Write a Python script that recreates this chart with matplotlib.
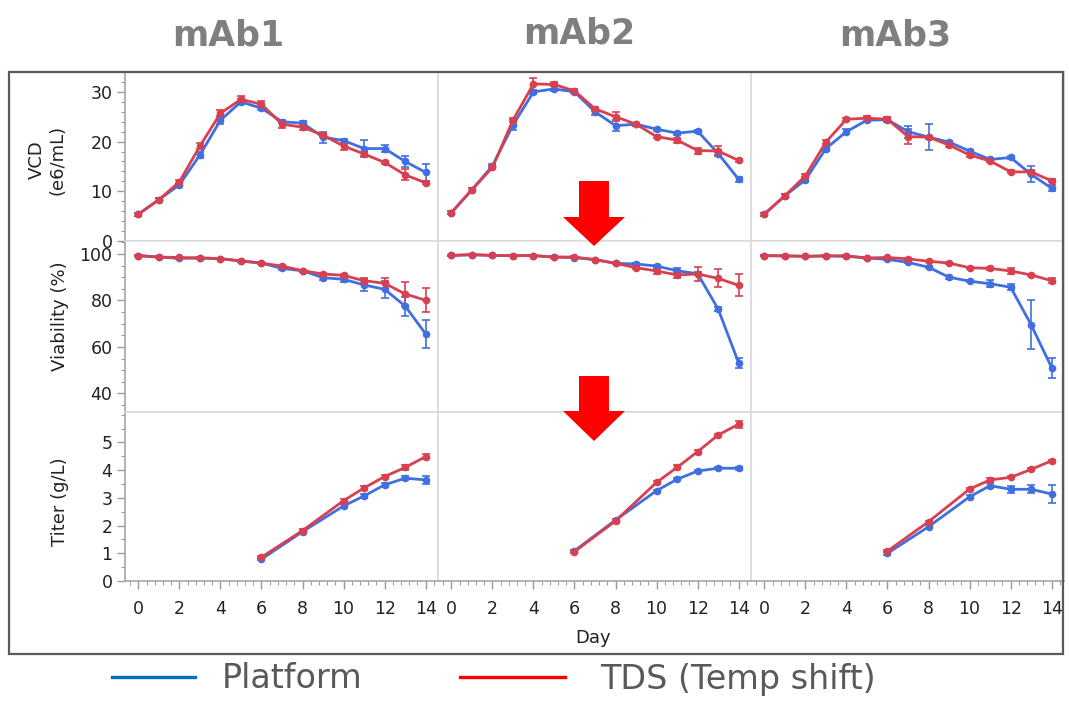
import matplotlib
matplotlib.use("Agg")
import matplotlib.pyplot as plt
from matplotlib.ticker import MultipleLocator, FixedLocator
from matplotlib.patches import Polygon, Rectangle
from matplotlib.lines import Line2D

# Fed-batch culture profiles, mean +/- sd per day
products = ["mAb1", "mAb2", "mAb3"]
days = list(range(15))
titer_days = [6, 8, 10, 11, 12, 13, 14]

vcd_platform = [
    [5.4, 8.3, 11.3, 17.3, 24.3, 28.0, 26.7, 24.0, 23.7, 20.9, 20.2, 18.6, 18.6, 16.0, 13.8],
    [5.7, 10.3, 15.1, 23.3, 30.0, 30.6, 30.0, 26.0, 23.2, 23.5, 22.5, 21.7, 22.1, 17.6, 12.4],
    [5.4, 9.1, 12.3, 18.6, 22.0, 24.3, 24.4, 22.0, 20.9, 19.9, 18.1, 16.4, 16.8, 13.4, 10.6],
]
vcd_platform_sd = [
    [0.3, 0.4, 0.4, 0.6, 0.7, 0.5, 0.4, 0.3, 0.4, 1.1, 0.4, 1.7, 0.7, 1.1, 1.7],
    [0.3, 0.3, 0.3, 1.0, 0.4, 0.5, 0.3, 0.6, 1.1, 0.3, 0.3, 0.3, 0.3, 0.3, 0.5],
    [0.3, 0.3, 0.4, 0.4, 0.5, 0.4, 0.5, 1.2, 2.6, 0.3, 0.3, 0.3, 0.3, 1.6, 0.6],
]
vcd_tds = [
    [5.4, 8.3, 11.9, 19.1, 25.7, 28.5, 27.5, 23.5, 22.9, 21.3, 19.1, 17.5, 15.8, 13.3, 11.7],
    [5.7, 10.3, 14.8, 24.3, 31.6, 31.5, 30.2, 26.6, 25.0, 23.5, 21.0, 20.3, 18.2, 18.1, 16.2],
    [5.4, 9.1, 13.1, 19.9, 24.5, 24.7, 24.5, 21.0, 20.9, 19.3, 17.3, 16.1, 13.9, 13.9, 12.1],
]
vcd_tds_sd = [
    [0.3, 0.3, 0.4, 0.6, 0.6, 0.7, 0.6, 0.7, 0.6, 0.4, 0.7, 0.4, 0.3, 1.1, 0.3],
    [0.3, 0.3, 0.3, 0.4, 1.2, 0.4, 0.3, 0.4, 0.9, 0.3, 0.3, 0.5, 0.6, 1.0, 0.3],
    [0.3, 0.3, 0.3, 0.4, 0.3, 0.5, 0.4, 1.5, 0.3, 0.3, 0.3, 0.3, 0.3, 0.4, 0.3],
]

via_platform = [
    [99.3, 98.7, 98.1, 98.3, 98.0, 97.0, 96.1, 93.8, 92.8, 89.8, 89.1, 86.7, 84.8, 77.6, 65.6],
    [99.4, 99.7, 99.4, 99.3, 99.3, 98.7, 98.4, 97.6, 96.0, 95.7, 94.8, 92.8, 91.5, 76.3, 53.1],
    [99.3, 99.2, 99.0, 99.2, 99.0, 98.3, 97.7, 96.4, 94.3, 90.0, 88.3, 87.2, 85.7, 69.5, 51.1],
]
via_platform_sd = [
    [0.3, 0.3, 0.3, 0.3, 0.3, 0.3, 0.3, 0.5, 0.5, 0.8, 1.0, 2.6, 3.7, 4.1, 6.1],
    [0.3, 0.3, 0.3, 0.3, 0.3, 0.3, 0.3, 0.3, 0.4, 0.5, 0.6, 1.0, 0.6, 1.0, 2.1],
    [0.3, 0.3, 0.3, 0.3, 0.3, 0.3, 0.3, 0.4, 0.5, 0.6, 0.5, 1.4, 1.2, 10.5, 4.3],
]
via_tds = [
    [99.3, 98.7, 98.5, 98.3, 98.0, 97.0, 96.1, 94.8, 92.8, 91.4, 90.8, 88.5, 87.4, 82.8, 80.1],
    [99.4, 99.7, 99.4, 99.3, 99.3, 98.7, 98.7, 97.6, 96.0, 94.1, 92.7, 91.0, 91.4, 89.5, 86.5],
    [99.3, 99.2, 99.0, 99.2, 99.2, 98.3, 98.5, 97.9, 96.9, 96.1, 94.1, 93.8, 92.7, 91.0, 88.5],
]
via_tds_sd = [
    [0.3, 0.3, 0.3, 0.3, 0.3, 0.3, 0.3, 0.4, 0.5, 0.6, 0.8, 1.0, 2.4, 5.3, 5.2],
    [0.3, 0.3, 0.3, 0.3, 0.3, 0.3, 0.3, 0.3, 0.4, 0.6, 1.3, 1.5, 2.9, 3.9, 4.7],
    [0.3, 0.3, 0.3, 0.3, 0.3, 0.3, 0.3, 0.3, 0.3, 0.4, 0.5, 0.5, 1.1, 0.6, 1.1],
]

titer_platform = [
    [0.79, 1.78, 2.71, 3.07, 3.47, 3.71, 3.65],
    [1.09, 2.20, 3.26, 3.67, 3.97, 4.07, 4.07],
    [1.00, 1.96, 3.04, 3.44, 3.31, 3.31, 3.14],
]
titer_platform_sd = [
    [0.04, 0.05, 0.06, 0.06, 0.06, 0.08, 0.15],
    [0.04, 0.04, 0.04, 0.04, 0.04, 0.04, 0.05],
    [0.05, 0.05, 0.08, 0.08, 0.13, 0.15, 0.32],
]
titer_tds = [
    [0.86, 1.82, 2.90, 3.36, 3.77, 4.10, 4.49],
    [1.06, 2.17, 3.56, 4.10, 4.67, 5.27, 5.66],
    [1.08, 2.14, 3.32, 3.65, 3.74, 4.03, 4.34],
]
titer_tds_sd = [
    [0.04, 0.05, 0.06, 0.06, 0.06, 0.08, 0.08],
    [0.05, 0.06, 0.05, 0.07, 0.07, 0.05, 0.12],
    [0.04, 0.04, 0.05, 0.05, 0.04, 0.04, 0.04],
]

vcd_ticks = [0, 10, 20, 30]
via_ticks = [40, 60, 80, 100]
titer_ticks = [0, 1, 2, 3, 4, 5]

W, H = 1069, 701
BLUE = "#3f6fe0"
RED = "#d9404f"
TICK_COLOR = "#222222"

fig = plt.figure(figsize=(W / 100, H / 100), dpi=100)
fig.patch.set_facecolor("white")


def px_box(x0, y0, x1, y1):
    return [x0 / W, 1 - y1 / H, (x1 - x0) / W, (y1 - y0) / H]


col_edges = [(125, 438), (438, 751), (751, 1064)]
row_edges = [(72, 241), (241, 412), (412, 581)]

rows = [
    (days, vcd_platform, vcd_platform_sd, vcd_tds, vcd_tds_sd, (0, 34), vcd_ticks, 2),
    (days, via_platform, via_platform_sd, via_tds, via_tds_sd, (32, 105.6), via_ticks, 5),
    (titer_days, titer_platform, titer_platform_sd, titer_tds, titer_tds_sd, (0, 6.1), titer_ticks, 0.5),
]

for r, (x, plat, plat_sd, tds, tds_sd, ylim, yticks, minor) in enumerate(rows):
    y0, y1 = row_edges[r]
    for c in range(3):
        x0, x1 = col_edges[c]
        ax = fig.add_axes(px_box(x0, y0, x1, y1))
        ax.errorbar(x, plat[c], yerr=plat_sd[c], color=BLUE, lw=2, marker="o",
                    ms=4.5, capsize=3, elinewidth=1.2, capthick=1.2)
        ax.errorbar(x, tds[c], yerr=tds_sd[c], color=RED, lw=2, marker="o",
                    ms=4.5, capsize=3, elinewidth=1.2, capthick=1.2)
        ax.set_xlim(-0.65, 14.6)
        ax.set_ylim(*ylim)
        ax.xaxis.set_major_locator(MultipleLocator(2))
        ax.xaxis.set_minor_locator(MultipleLocator(0.4))
        ax.yaxis.set_major_locator(FixedLocator(yticks))
        ax.yaxis.set_minor_locator(MultipleLocator(minor))
        for s in ax.spines.values():
            s.set_color("#dadada")
            s.set_linewidth(1.2)
        ax.tick_params(which="both", colors="#9a9a9a", labelcolor=TICK_COLOR,
                       labelsize=12.5, direction="out")
        ax.tick_params(which="major", length=6, width=1)
        ax.tick_params(which="minor", length=3, width=0.8)
        ax.tick_params(axis="x", pad=8)
        ax.tick_params(axis="y", pad=3)
        if c == 0:
            ax.spines["left"].set_color("#a6a6a6")
        else:
            ax.tick_params(axis="y", which="both", left=False, labelleft=False)
        if r == 2:
            ax.spines["bottom"].set_color("#a6a6a6")
        else:
            ax.tick_params(axis="x", which="both", bottom=False, labelbottom=False)

# Column titles
for name, cx, cy in zip(products, [228, 579, 895], [35, 33, 35]):
    fig.text(cx / W, 1 - cy / H, name, ha="center", va="center",
             fontsize=25, fontweight="bold", color="#7f7f7f")

# Axis labels
label_kw = dict(rotation=90, ha="center", va="center", fontsize=13, color="#222222")
fig.text(47 / W, 1 - 160 / H, "VCD\n(e6/mL)", multialignment="center", **label_kw)
fig.text(60 / W, 1 - 316 / H, "Viability (%)", **label_kw)
fig.text(60 / W, 1 - 502 / H, "Titer (g/L)", **label_kw)
fig.text(593 / W, 1 - 638 / H, "Day", ha="center", va="center", fontsize=13,
         color="#222222")

# Outer frame round the panel grid
fig.patches.append(Rectangle((9 / W, 1 - 654 / H), (1063 - 9) / W, (654 - 72) / H,
                             transform=fig.transFigure, fill=False,
                             edgecolor="#5a5a5a", lw=1.6, zorder=5))


# Down arrows marking the shift effect
def down_arrow(cx, top, head_top, tip, shaft_w=30, head_w=62):
    pts = [(cx - shaft_w / 2, top), (cx + shaft_w / 2, top),
           (cx + shaft_w / 2, head_top), (cx + head_w / 2, head_top),
           (cx, tip), (cx - head_w / 2, head_top), (cx - shaft_w / 2, head_top)]
    pts = [(px / W, 1 - py / H) for px, py in pts]
    fig.patches.append(Polygon(pts, closed=True, transform=fig.transFigure,
                               facecolor="#ff0000", edgecolor="none", zorder=6))


down_arrow(594, 181, 217, 246)
down_arrow(594, 376, 411, 441)

# Legend below the frame
fig.lines.append(Line2D([112 / W, 195 / W], [1 - 677 / H] * 2, color="#0070c0",
                        lw=2.4, transform=fig.transFigure))
fig.text(222 / W, 1 - 679 / H, "Platform", ha="left", va="center",
         fontsize=24, color="#595959")
fig.lines.append(Line2D([460 / W, 565 / W], [1 - 677 / H] * 2, color="#ff0000",
                        lw=2.4, transform=fig.transFigure))
fig.text(600 / W, 1 - 679 / H, "TDS (Temp shift)", ha="left", va="center",
         fontsize=24, color="#595959")

fig.savefig("out.png", dpi=100)
